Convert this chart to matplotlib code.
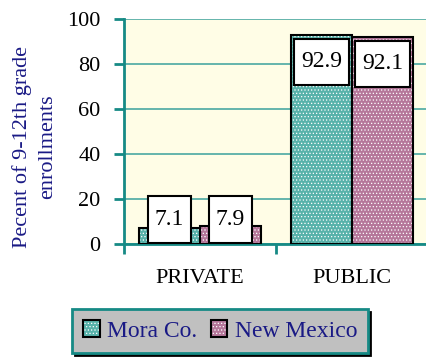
import matplotlib
matplotlib.use("Agg")
import matplotlib.pyplot as plt
from matplotlib.patches import Patch
from matplotlib.path import Path
import numpy as np

categories = ["PRIVATE", "PUBLIC"]
series_names = ["Mora Co.", "New Mexico"]
mora = [7.1, 92.9]
new_mexico = [7.9, 92.1]
y_ticks = [0, 20, 40, 60, 80, 100]

plt.rcParams["font.family"] = "Liberation Serif"
plt.rcParams["hatch.linewidth"] = 0.5

teal = "#58b2aa"
mauve = "#b5779a"
grid_teal = "#4aa8a2"
axis_teal = "#168a85"
navy = "#1a1a85"
dots = "....."


def label_box(x0, y0, width, height, mutation_size):
    # rectangle with more padding above/below than at the sides
    px, py = 0.3 * mutation_size, 0.54 * mutation_size
    l, r = x0 - px, x0 + width + px
    b, t = y0 - py, y0 + height + py
    return Path([(l, b), (r, b), (r, t), (l, t), (l, b)], closed=True)


fig = plt.figure(figsize=(4.27, 3.58), dpi=100)
ax = fig.add_axes([124 / 427, 114 / 358, 304 / 427, 225 / 358])
ax.set_facecolor("#fffde6")

x = np.arange(len(categories))
w = 0.4
for vals, off, col in [(mora, -w / 2, teal), (new_mexico, w / 2, mauve)]:
    # dotted fill first, then the black outline on top
    ax.bar(x + off, vals, w, color=col, hatch=dots, edgecolor="white", linewidth=0, zorder=2)
    ax.bar(x + off, vals, w, fill=False, edgecolor="black", linewidth=1.5, zorder=3)
    for xi, v in zip(x + off, vals):
        ly = v - 12 if v > 24 else 11
        ax.text(xi, ly, f"{v:.1f}", ha="center", va="center", fontsize=17, zorder=4,
                bbox=dict(boxstyle=label_box, fc="white", ec="black", lw=1.5))

ax.set_xlim(-0.5, 1.5)
ax.set_ylim(0, 100)
ax.set_yticks(y_ticks)
ax.yaxis.grid(True, color=grid_teal, linewidth=1.2)
ax.set_axisbelow(True)

for s in ["top", "right"]:
    ax.spines[s].set_visible(False)
for s in ["left", "bottom"]:
    ax.spines[s].set_color(axis_teal)
    ax.spines[s].set_linewidth(2)

ax.tick_params(axis="y", length=7, width=2, color=axis_teal, labelsize=16, pad=10)
ax.set_xticks(x, categories)
ax.set_xticks([-0.5, 0.5, 1.5], minor=True)
ax.tick_params(axis="x", which="major", length=0, labelsize=16, pad=18)
ax.tick_params(axis="x", which="minor", length=7, width=2, color=axis_teal)

fig.text(35 / 427, 1 - 147 / 358, "Pecent of 9-12th grade\nenrollments", rotation=90,
         ha="center", va="center", color=navy, fontsize=16, multialignment="center",
         linespacing=1.45)

handles = [
    (Patch(fc=teal, hatch=dots, ec="white", lw=0), Patch(fill=False, ec="black", lw=1.5)),
    (Patch(fc=mauve, hatch=dots, ec="white", lw=0), Patch(fill=False, ec="black", lw=1.5)),
]
leg = fig.legend(handles, series_names, loc="center", bbox_to_anchor=(220 / 427, 1 - 331 / 358),
                 ncol=2, frameon=True, fancybox=False, shadow={"color": "black", "alpha": 1},
                 facecolor="#c0c0c0", edgecolor=axis_teal, framealpha=1, prop={"size": 17},
                 labelcolor=navy, handlelength=0.7, handleheight=0.75, handletextpad=0.3,
                 columnspacing=0.6, borderpad=0.45)
leg.get_frame().set_linewidth(2)

fig.savefig("out.png", dpi=100)
